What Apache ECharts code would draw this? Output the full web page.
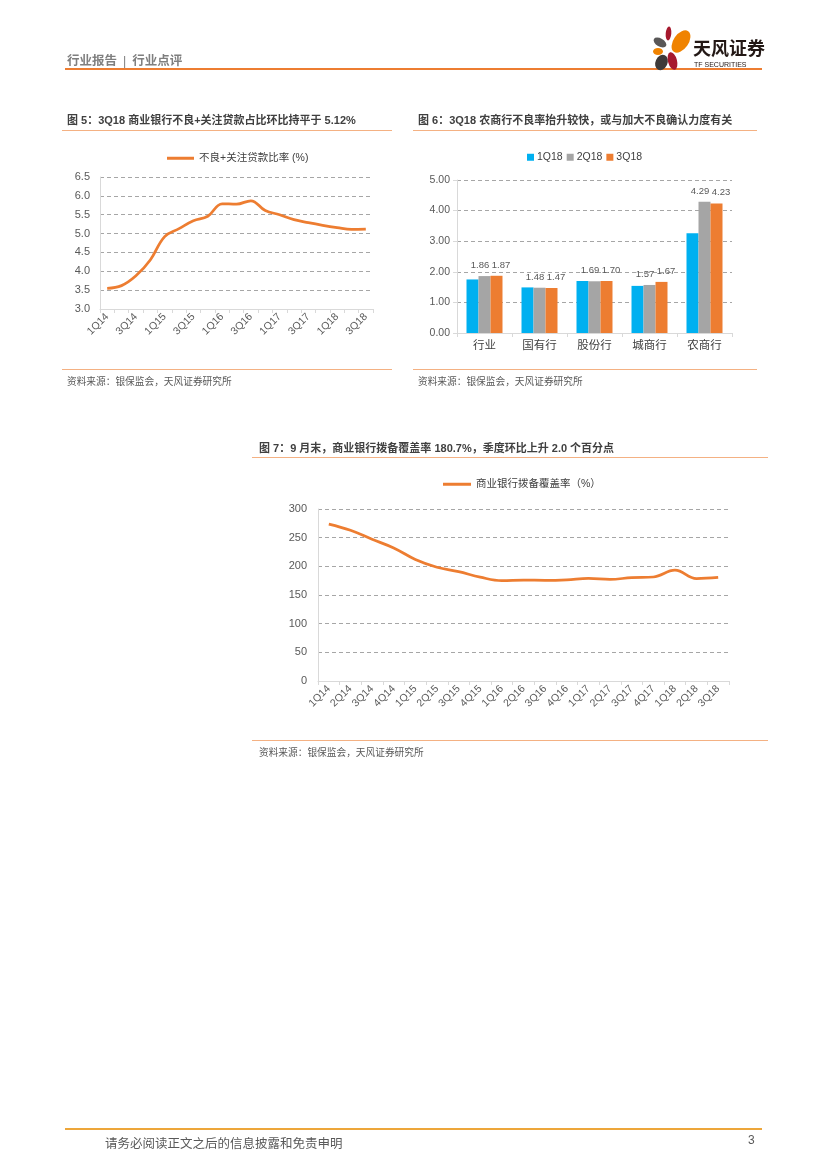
<!DOCTYPE html>
<html><head><meta charset="utf-8">
<script src="https://cdn.jsdelivr.net/npm/echarts@6/dist/echarts.min.js"></script>
<style>
html,body{margin:0;padding:0;background:#fff;}
#page{position:relative;width:827px;height:1169px;overflow:hidden;font-family:"Liberation Sans","Noto Sans CJK SC",sans-serif;}
#chart{position:absolute;left:0;top:0;width:827px;height:1169px;}
.t{position:absolute;white-space:nowrap;}
.ttl{font-size:11px;font-weight:bold;color:#404040;}
.src{font-size:9.7px;color:#595959;}
.ln{position:absolute;height:1px;background:#F4B183;}
</style></head>
<body><div id="page">
<div id="chart"></div>
<div class="t" style="left:67px;top:50px;font-size:12.5px;color:#7F7F7F;font-weight:bold;">行业报告<span style="margin:0 6px;font-weight:normal;">|</span>行业点评</div>
<div class="ln" style="left:65px;top:68px;width:697px;height:2px;background:#ED7D31;"></div>
<svg style="position:absolute;left:640px;top:20px;" width="130" height="55" viewBox="640 20 130 55">
<ellipse cx="668.5" cy="33.5" rx="2.8" ry="7" fill="#A6192E" transform="rotate(5 668.5 33.5)"/>
<ellipse cx="681" cy="41.5" rx="7.5" ry="12.5" fill="#F08300" transform="rotate(35 681 41.5)"/>
<ellipse cx="660" cy="42.5" rx="7" ry="4" fill="#595757" transform="rotate(30 660 42.5)"/>
<ellipse cx="658" cy="51.5" rx="5" ry="3.5" fill="#F08300"/>
<ellipse cx="661.5" cy="62.5" rx="6" ry="8" fill="#3E3A39" transform="rotate(25 661.5 62.5)"/>
<ellipse cx="672.5" cy="61" rx="4.5" ry="9" fill="#A6192E" transform="rotate(-15 672.5 61)"/>
<text x="693" y="55" font-size="18" font-weight="bold" fill="#231815" font-family="Noto Sans CJK SC">天风证券</text>
<text x="694" y="67" font-size="7" fill="#231815" font-family="Liberation Sans">TF SECURITIES</text>
</svg>

<div class="t ttl" style="left:67px;top:111px;">图 5：3Q18 商业银行不良+关注贷款占比环比持平于 5.12%</div>
<div class="ln" style="left:62px;top:130px;width:330px;"></div>
<div class="ln" style="left:62px;top:369px;width:330px;"></div>
<div class="t src" style="left:67px;top:374px;">资料来源：银保监会，天风证券研究所</div>

<div class="t ttl" style="left:418px;top:111px;">图 6：3Q18 农商行不良率抬升较快，或与加大不良确认力度有关</div>
<div class="ln" style="left:413px;top:130px;width:344px;"></div>
<div class="ln" style="left:413px;top:369px;width:344px;"></div>
<div class="t src" style="left:418px;top:374px;">资料来源：银保监会，天风证券研究所</div>

<div class="t ttl" style="left:259px;top:439px;">图 7：9 月末，商业银行拨备覆盖率 180.7%，季度环比上升 2.0 个百分点</div>
<div class="ln" style="left:252px;top:457px;width:516px;"></div>
<div class="ln" style="left:252px;top:740px;width:516px;"></div>
<div class="t src" style="left:259px;top:745px;">资料来源：银保监会，天风证券研究所</div>

<div class="ln" style="left:65px;top:1128px;width:697px;height:2px;background:#EDA63A;"></div>
<div class="t" style="left:105px;top:1133px;font-size:12.5px;color:#595959;">请务必阅读正文之后的信息披露和免责申明</div>
<div class="t" style="left:748px;top:1133px;font-size:12px;color:#595959;">3</div>
</div>
<script>
// ---------- data ----------
const quarters = ['1Q14','2Q14','3Q14','4Q14','1Q15','2Q15','3Q15','4Q15','1Q16','2Q16','3Q16','4Q16','1Q17','2Q17','3Q17','4Q17','1Q18','2Q18','3Q18'];
const nplSmRatio = [3.55,3.62,3.88,4.30,4.92,5.13,5.34,5.46,5.79,5.78,5.87,5.61,5.50,5.37,5.29,5.22,5.16,5.11,5.12];
const bankTypes = ['行业','国有行','股份行','城商行','农商行'];
const npl1Q18 = [1.75,1.49,1.70,1.54,3.26];
const npl2Q18 = [1.86,1.48,1.69,1.57,4.29];
const npl3Q18 = [1.87,1.47,1.70,1.67,4.23];
const provisionCoverage = [273.7,262.9,247.2,232.1,212.0,198.4,190.8,181.2,175.0,176.0,175.5,176.4,178.8,177.2,180.4,181.4,193.2,178.7,180.7];
const name5 = '不良+关注贷款比率 (%)';
const name7 = '商业银行拨备覆盖率（%）';

const ORANGE = '#ED7D31', BLUE = '#00B0F0', GRAY = '#A5A5A5';
const FF = '"Liberation Sans","Noto Sans CJK SC",sans-serif';
const axisLine = {show:true, lineStyle:{color:'#D9D9D9', width:1}};
const split = {show:true, lineStyle:{color:'#A6A6A6', type:[4,3], width:1}};
const lbl = (s)=>({color:'#595959', fontSize:s, fontFamily:FF});

const chart = echarts.init(document.getElementById('chart'), null, {renderer:'canvas'});
chart.setOption({
  animation:false,
  textStyle:{fontFamily:FF},
  legend:[
    {data:[{name:name5}], left:167, top:153, padding:0, icon:'rect', itemWidth:27, itemHeight:3, itemGap:4,
     textStyle:{color:'#404040', fontSize:10.5, fontFamily:FF}},
    {data:['1Q18','2Q18','3Q18'], left:527, top:152, padding:0, icon:'rect', itemWidth:7, itemHeight:7, itemGap:4,
     textStyle:{color:'#404040', fontSize:10.5, fontFamily:FF, padding:[0,0,0,-2]}},
    {data:[{name:name7}], left:443, top:479, padding:0, icon:'rect', itemWidth:28, itemHeight:3, itemGap:4,
     textStyle:{color:'#404040', fontSize:10.5, fontFamily:FF}}
  ],
  grid:[
    {left:100, top:177, width:273, height:132},
    {left:457, top:180, width:275, height:153},
    {left:318, top:509, width:411, height:172}
  ],
  xAxis:[
    {type:'category', gridIndex:0, data:quarters, boundaryGap:true, axisLine:axisLine,
     axisTick:{show:true, interval:0, length:4, lineStyle:{color:'#D9D9D9'}},
     axisLabel:Object.assign(lbl(10.5),{interval:1, rotate:45, margin:6})},
    {type:'category', gridIndex:1, data:bankTypes, axisLine:axisLine,
     axisTick:{show:true, length:4, lineStyle:{color:'#D9D9D9'}},
     axisLabel:Object.assign(lbl(11.5),{color:'#404040', margin:7})},
    {type:'category', gridIndex:2, data:quarters, axisLine:axisLine,
     axisTick:{show:true, interval:0, length:4, lineStyle:{color:'#D9D9D9'}},
     axisLabel:Object.assign(lbl(10.5),{interval:0, rotate:45, margin:6})}
  ],
  yAxis:[
    {type:'value', gridIndex:0, min:3.0, max:6.5, interval:0.5, axisLine:axisLine,
     axisTick:{show:false}, splitLine:split,
     axisLabel:Object.assign(lbl(11),{formatter:v=>v.toFixed(1), margin:10})},
    {type:'value', gridIndex:1, min:0, max:5, interval:1, axisLine:axisLine,
     axisTick:{show:true, length:4, lineStyle:{color:'#D9D9D9'}}, splitLine:split,
     axisLabel:Object.assign(lbl(10.5),{formatter:v=>v.toFixed(2), margin:7})},
    {type:'value', gridIndex:2, min:0, max:300, interval:50, axisLine:axisLine,
     axisTick:{show:false}, splitLine:split,
     axisLabel:Object.assign(lbl(11),{margin:11})}
  ],
  series:[
    {name:name5, type:'line', xAxisIndex:0, yAxisIndex:0, data:nplSmRatio, smooth:0.4,
     showSymbol:false, lineStyle:{color:ORANGE, width:2.75}, itemStyle:{color:ORANGE}},
    {name:'1Q18', type:'bar', xAxisIndex:1, yAxisIndex:1, data:npl1Q18, barWidth:12, barGap:'0%',
     itemStyle:{color:BLUE}},
    {name:'2Q18', type:'bar', xAxisIndex:1, yAxisIndex:1, data:npl2Q18, barWidth:12, barGap:'0%',
     itemStyle:{color:GRAY},
     label:{show:true, position:'top', distance:6, offset:[-4.5,0], color:'#595959', fontSize:9.5, formatter:p=>p.value.toFixed(2)}},
    {name:'3Q18', type:'bar', xAxisIndex:1, yAxisIndex:1, data:npl3Q18, barWidth:12, barGap:'0%',
     itemStyle:{color:ORANGE},
     label:{show:true, position:'top', distance:6, offset:[4.5,0], color:'#595959', fontSize:9.5, formatter:p=>p.value.toFixed(2)}},
    {name:name7, type:'line', xAxisIndex:2, yAxisIndex:2, data:provisionCoverage, smooth:0.4,
     showSymbol:false, lineStyle:{color:ORANGE, width:2.75}, itemStyle:{color:ORANGE}}
  ]
});
</script>
</body></html>
